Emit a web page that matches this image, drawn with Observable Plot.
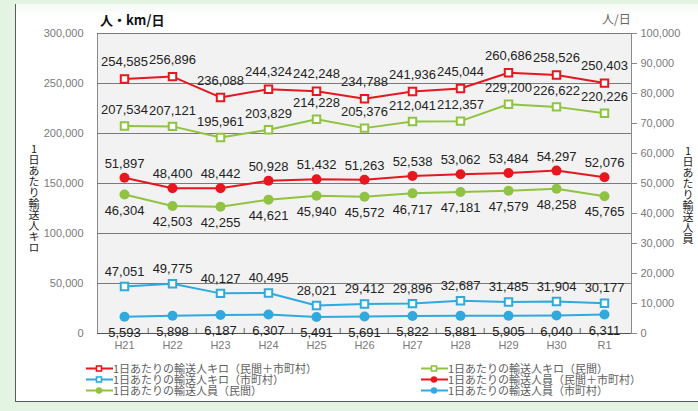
<!DOCTYPE html>
<html>
<head>
<meta charset="utf-8">
<script src="https://cdn.jsdelivr.net/npm/d3@7"></script>
<script src="https://cdn.jsdelivr.net/npm/@observablehq/plot@0.6"></script>
<style>
  html, body { margin: 0; padding: 0; }
  body { width: 698px; height: 411px; background: #e4f4e2; position: relative; overflow: hidden; font-family: "Liberation Sans", Arial, sans-serif; }
  #panel { position: absolute; left: 15px; top: 4px; right: 0; bottom: 9px; background: linear-gradient(#f4faf4, #ffffff 12px); border-left: 1px solid #5a5a5a; border-bottom: 1px solid #5a5a5a; }
  #chart { position: absolute; left: 0; top: 0; }
  .unit { position: absolute; font-family: "Noto Sans CJK JP", sans-serif; line-height: 14px; }
  .vtitle { position: absolute; writing-mode: vertical-rl; text-orientation: upright; font-family: "Noto Sans CJK JP", sans-serif; font-size: 11px; line-height: 12px; color: #222; letter-spacing: 0px; }
  #legend { position: absolute; left: 85px; top: 363px; display: grid; grid-template-columns: 335px 260px; font-family: "Noto Sans CJK JP", sans-serif; font-size: 11px; color: #5e5e5e; }
  #legend .item { display: flex; align-items: center; white-space: nowrap; height: 11px; }
  #legend .lbl { display: inline-block; height: 11px; line-height: 11px; }
</style>
</head>
<body>
<div id="panel"></div>
<div id="chart"></div>
<div class="unit" style="left:100px; top:13px; font-size:13px; color:#111; font-weight:bold;">人・km/日</div>
<div class="unit" style="left:602px; top:12px; font-size:12px; color:#666;">人/日</div>
<div class="vtitle" style="left:28px; top:143px;">1日あたり輸送人キロ</div>
<div class="vtitle" style="left:682px; top:145px;">1日あたり輸送人員</div>
<div id="legend"></div>
<script>
// ---- data ----
const categories = ["H21", "H22", "H23", "H24", "H25", "H26", "H27", "H28", "H29", "H30", "R1"];

const kmTotal     = [254585, 256896, 236088, 244324, 242248, 234788, 241936, 245044, 260686, 258526, 250403];
const kmPrivate   = [207534, 207121, 195961, 203829, 214228, 205376, 212041, 212357, 229200, 226622, 220226];
const kmMunicipal = [47051, 49775, 40127, 40495, 28021, 29412, 29896, 32687, 31485, 31904, 30177];

const pplTotal     = [51897, 48400, 48442, 50928, 51432, 51263, 52538, 53062, 53484, 54297, 52076];
const pplPrivate   = [46304, 42503, 42255, 44621, 45940, 45572, 46717, 47181, 47579, 48258, 45765];
const pplMunicipal = [5593, 5898, 6187, 6307, 5491, 5691, 5822, 5881, 5905, 6040, 6311];

const leftTicks  = [0, 50000, 100000, 150000, 200000, 250000, 300000];
const rightTicks = [0, 10000, 20000, 30000, 40000, 50000, 60000, 70000, 80000, 90000, 100000];

const seriesNames = [
  "1日あたりの輸送人キロ（民間＋市町村）",
  "1日あたりの輸送人キロ（民間）",
  "1日あたりの輸送人キロ（市町村）",
  "1日あたりの輸送人員（民間＋市町村）",
  "1日あたりの輸送人員（民間）",
  "1日あたりの輸送人員（市町村）"
];

// ---- styling / layout ----
const RED = "#e8161e", GREEN = "#8fc341", BLUE = "#2fa9de";
const leftMax = 300000, rightMax = 100000, ratio = leftMax / rightMax;

const series = [
  {name: seriesNames[0], values: kmTotal,      axis: "left",  color: RED,   symbol: "square", labelDy: -17},
  {name: seriesNames[1], values: kmPrivate,    axis: "left",  color: GREEN, symbol: "square", labelDy: -16},
  {name: seriesNames[2], values: kmMunicipal,  axis: "left",  color: BLUE,  symbol: "square", labelDy: -15},
  {name: seriesNames[3], values: pplTotal,     axis: "right", color: RED,   symbol: "circle", labelDy: -14},
  {name: seriesNames[4], values: pplPrivate,   axis: "right", color: GREEN, symbol: "circle", labelDy: 16},
  {name: seriesNames[5], values: pplMunicipal, axis: "right", color: BLUE,  symbol: "circle", labelDy: 16}
];

const W = 698, H = 411, mL = 97, mR = 67, mT = 33, mB = 78;
const step = (W - mL - mR) / categories.length;
const fmt = d3.format(",");

const marks = [
  Plot.frame({fill: "#f2f2f2", stroke: "#8a8a8a"}),
  Plot.ruleY(leftTicks, {stroke: "#7a7a7a", strokeWidth: 1}),
  Plot.ruleY([0], {stroke: "#555", strokeWidth: 1}),
  Plot.ruleX(categories.slice(1), {x: d => d, y1: 0, y2: 0, dx: -step / 2, insetTop: -5, stroke: "#666"}),
  Plot.axisY(leftTicks, {anchor: "left", tickFormat: fmt, tickSize: 0, tickPadding: 14, fill: "#7a7a7a", fontSize: 11, label: null}),
  Plot.axisY(rightTicks.map(v => v * ratio), {anchor: "right", tickFormat: d => fmt(d / ratio), tickSize: 5, tickPadding: 4, stroke: "#888", fill: "#7a7a7a", fontSize: 11, label: null}),
  Plot.axisX({tickSize: 0, tickPadding: 8, fill: "#7a7a7a", fontSize: 11, label: null})
];

for (const s of series) {
  const f = s.axis === "left" ? 1 : ratio;
  const rows = categories.map((c, i) => ({cat: c, v: s.values[i], y: s.values[i] * f}));
  marks.push(Plot.line(rows, {x: "cat", y: "y", stroke: s.color, strokeWidth: 2}));
  if (s.symbol === "square") {
    marks.push(Plot.dot(rows, {x: "cat", y: "y", symbol: "square", r: 4.2, fill: "#fff", stroke: s.color, strokeWidth: 2}));
  } else {
    marks.push(Plot.dot(rows, {x: "cat", y: "y", symbol: "circle", r: 5, fill: s.color, stroke: s.color, strokeWidth: 0}));
  }
  marks.push(Plot.text(rows, {x: "cat", y: "y", text: d => fmt(d.v), dy: s.labelDy, fill: "#222", fontSize: 13, fontFamily: "Liberation Sans, Arial, sans-serif"}));
}

const chart = Plot.plot({
  width: W, height: H,
  marginLeft: mL, marginRight: mR, marginTop: mT, marginBottom: mB,
  style: {background: "transparent", fontFamily: "Liberation Sans, Arial, sans-serif", fontSize: "11px", overflow: "visible"},
  x: {type: "point", domain: categories, padding: 0.5},
  y: {domain: [0, leftMax]},
  marks
});
document.getElementById("chart").appendChild(chart);

// ---- legend (row-major, 2 columns) ----
const legend = document.getElementById("legend");
for (const s of series) {
  const item = document.createElement("div");
  item.className = "item";
  const ns = "http://www.w3.org/2000/svg";
  const sw = document.createElementNS(ns, "svg");
  sw.setAttribute("width", 28); sw.setAttribute("height", 11);
  const ln = document.createElementNS(ns, "line");
  ln.setAttribute("x1", 1); ln.setAttribute("x2", 28); ln.setAttribute("y1", 5.5); ln.setAttribute("y2", 5.5);
  ln.setAttribute("stroke", s.color); ln.setAttribute("stroke-width", 2);
  sw.appendChild(ln);
  if (s.symbol === "square") {
    const r = document.createElementNS(ns, "rect");
    r.setAttribute("x", 11.5); r.setAttribute("y", 3); r.setAttribute("width", 5); r.setAttribute("height", 5);
    r.setAttribute("fill", "#fff"); r.setAttribute("stroke", s.color); r.setAttribute("stroke-width", 1.6);
    sw.appendChild(r);
  } else {
    const c = document.createElementNS(ns, "circle");
    c.setAttribute("cx", 14); c.setAttribute("cy", 5.5); c.setAttribute("r", 3.2);
    c.setAttribute("fill", s.color);
    sw.appendChild(c);
  }
  item.appendChild(sw);
  const t = document.createElement("span");
  t.className = "lbl";
  t.textContent = s.name;
  item.appendChild(t);
  legend.appendChild(item);
}
</script>
</body>
</html>
